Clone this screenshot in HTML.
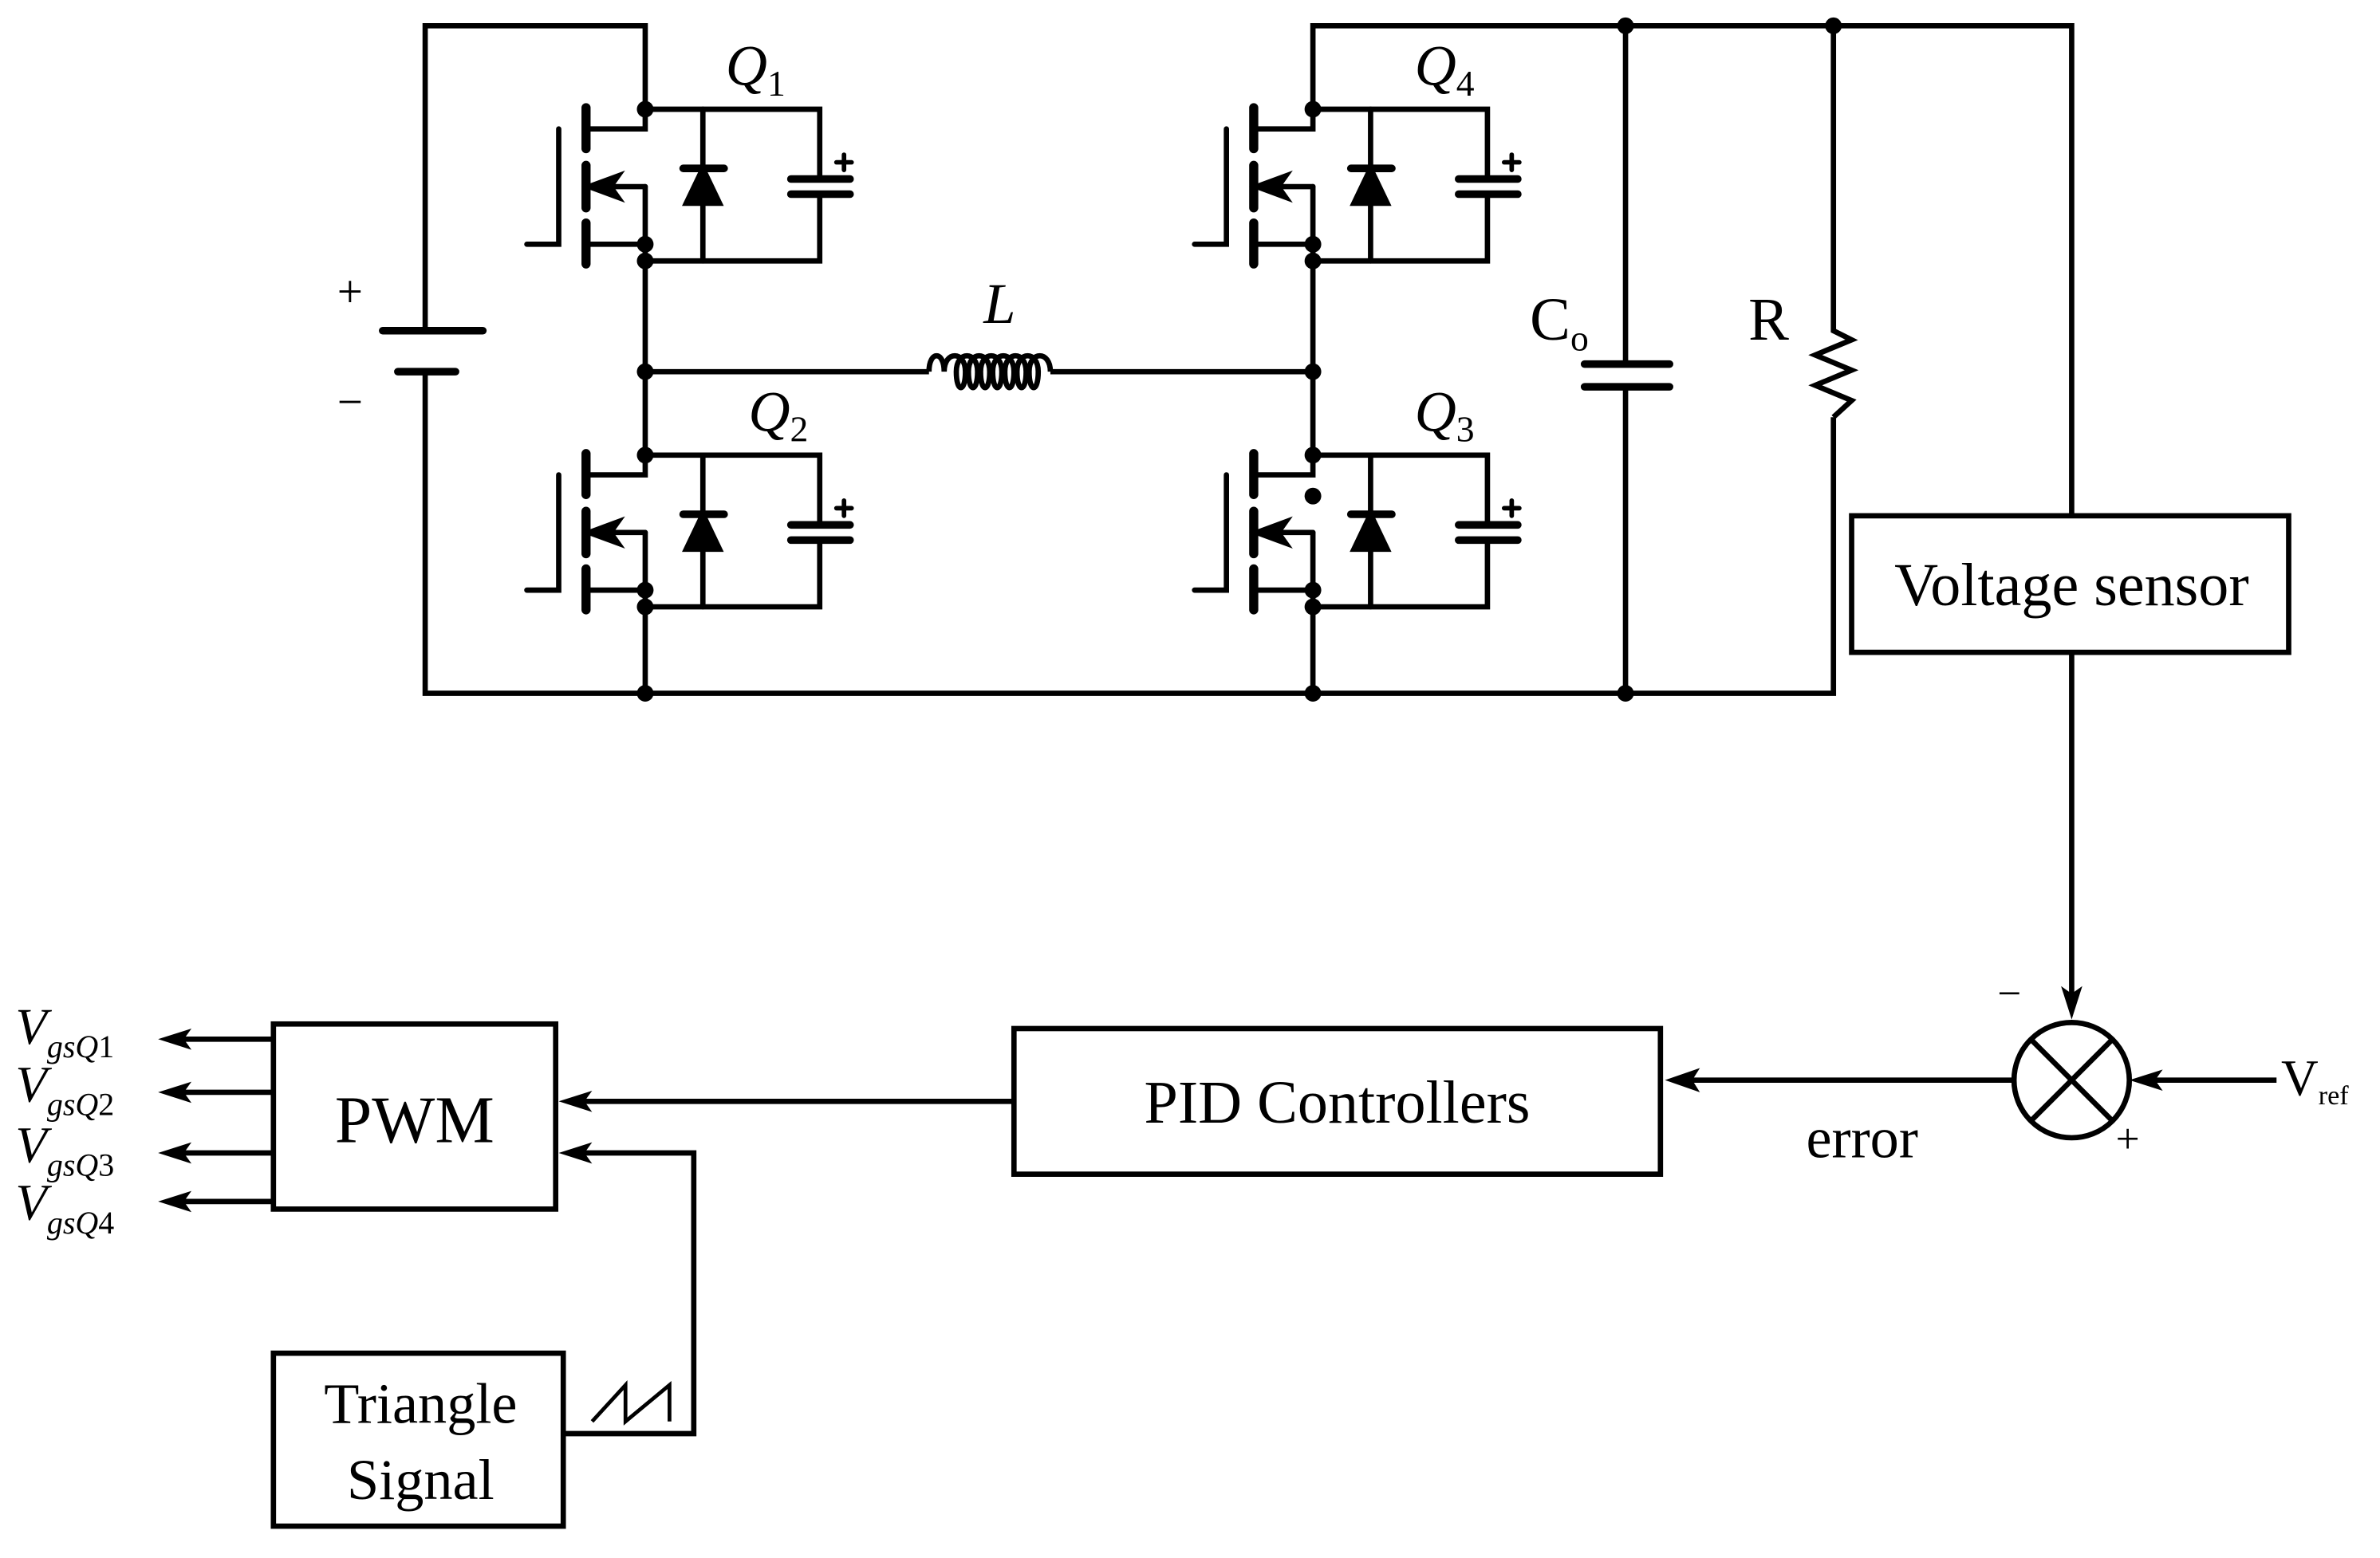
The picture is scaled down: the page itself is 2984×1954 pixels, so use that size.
<!DOCTYPE html>
<html><head><meta charset="utf-8"><style>
html,body{margin:0;padding:0;background:#fff;}
svg{display:block;}
text{font-family:"Liberation Serif",serif;fill:#000;}
</style></head><body>
<svg width="2984" height="1954" viewBox="0 0 1568 1027" xmlns="http://www.w3.org/2000/svg">
<defs>
<g id="mos" stroke="#000" stroke-width="3.5" fill="none" stroke-linecap="round">
  <path d="M-57,13 V89 H-78" />
  <path d="M-39,-1 V26 M-39,37 V65 M-39,75 V102" stroke-width="6"/>
  <path d="M-39,13 H0 V0" />
  <path d="M0,51 H-37" />
  <path d="M-37,51 L-18,44 L-23,51 L-18,58 Z" fill="#000"/>
  <path d="M0,51 V100" />
  <path d="M-39,89 H0" />
  <path d="M0,0 H115 V46 M115,56 V100 H0" />
  <path d="M96,46 H135 M96,56 H135" stroke-width="5"/>
  <path d="M131,30 V40 M126,35 H136" stroke-width="3"/>
  <path d="M38,0 V100" />
  <path d="M25,39 H52" stroke-width="5"/>
  <path d="M27,62 L38,39 L49,62 Z" fill="#000"/>
  <circle cx="0" cy="0" r="5.5" fill="#000" stroke="none"/>
  <circle cx="0" cy="89" r="5.5" fill="#000" stroke="none"/>
  <circle cx="0" cy="100" r="5.5" fill="#000" stroke="none"/>
</g>
</defs>

<use href="#mos" x="425" y="72"/>
<use href="#mos" x="425" y="300"/>
<use href="#mos" x="865" y="72"/>
<use href="#mos" x="865" y="300"/>
<circle cx="865" cy="327" r="5.5" fill="#000"/>

<g stroke="#000" stroke-width="3.5" fill="none">
  <path d="M425,72 V17 H280 V218 M280,245 V457 H1208 V275"/>
  <path d="M865,72 V17 H1365 V340"/>
  <path d="M425,172 V300 M865,172 V300 M425,400 V457 M865,400 V457"/>
  <path d="M425,245 H612 M692,245 H865"/>
  <path d="M612,245 c0,-14 10,-14 10,0 c0,-14 14,-14 14,0 c0,14 -6,14 -6,0 c0,-14 14,-14 14,0 c0,14 -6,14 -6,0 c0,-14 14,-14 14,0 c0,14 -6,14 -6,0 c0,-14 14,-14 14,0 c0,14 -6,14 -6,0 c0,-14 14,-14 14,0 c0,14 -6,14 -6,0 c0,-14 14,-14 14,0 c0,14 -6,14 -6,0 c0,-14 14,-14 14,0 c0,14 -6,14 -6,0 c0,-14 14,-14 14,0"/>
  <path d="M1071,17 V240 M1071,255 V457"/>
  <path d="M1208,17 V218 L1220,224 L1196,234 L1220,244 L1196,254 L1220,264 L1208,275"/>
  <path d="M1365,430 V660"/>
  <circle cx="1365" cy="712" r="38"/>
  <path d="M1338,685 L1392,739 M1392,685 L1338,739"/>
  <path d="M1500,712 H1412"/>
  <path d="M1327,712 H1105"/>
  <path d="M668,726 H378"/>
  <path d="M180,685 H112 M180,720 H112 M180,760 H112 M180,792 H112"/>
  <path d="M371,945 H457 V760 H378"/>
  <path d="M390,937 L412,913 V937 L441,913 V937" stroke-width="2.5"/>
  <rect x="1220" y="340" width="288" height="90"/>
  <rect x="668" y="678" width="426" height="96"/>
  <rect x="180" y="675" width="186" height="122"/>
  <rect x="180" y="892" width="191" height="114"/>
</g>
<g stroke="#000" stroke-width="5" stroke-linecap="round">
  <path d="M252,218 H318 M262,245 H300"/>
  <path d="M1044,240 H1100 M1044,255 H1100"/>
</g>
<g fill="#000">
  <circle cx="425" cy="245" r="5.5"/><circle cx="865" cy="245" r="5.5"/>
  <circle cx="425" cy="457" r="5.5"/><circle cx="865" cy="457" r="5.5"/><circle cx="1071" cy="457" r="5.5"/>
  <circle cx="1071" cy="17" r="5.5"/><circle cx="1208" cy="17" r="5.5"/>
  <path d="M1365,672 L1358,650 L1365,655 L1372,650 Z"/>
  <path d="M1403,712 L1425,705 L1420,712 L1425,719 Z"/>
  <path d="M1097,712 L1120,704 L1115,712 L1120,720 Z"/>
  <path d="M368,726 L390,719 L385,726 L390,733 Z"/>
  <path d="M368,760 L390,753 L385,760 L390,767 Z"/>
  <path d="M104,685 L126,678 L121,685 L126,692 Z"/>
  <path d="M104,720 L126,713 L121,720 L126,727 Z"/>
  <path d="M104,760 L126,753 L121,760 L126,767 Z"/>
  <path d="M104,792 L126,785 L121,792 L126,799 Z"/>
</g>

<g font-size="38">
  <text x="478" y="56" font-style="italic">Q<tspan font-size="24" font-style="normal" dy="7">1</tspan></text>
  <text x="493" y="284" font-style="italic">Q<tspan font-size="24" font-style="normal" dy="7">2</tspan></text>
  <text x="932" y="56" font-style="italic">Q<tspan font-size="24" font-style="normal" dy="7">4</tspan></text>
  <text x="932" y="284" font-style="italic">Q<tspan font-size="24" font-style="normal" dy="7">3</tspan></text>
  <text x="648" y="213" font-style="italic">L</text>
  <text x="1008" y="224" font-size="40">C<tspan font-size="24" dy="7">o</tspan></text>
  <text x="1152" y="224" font-size="40">R</text>
  <text x="222" y="202" font-size="30">+</text>
  <text x="222" y="275" font-size="30">−</text>
  <text x="1365" y="399" text-anchor="middle" font-size="40">Voltage sensor</text>
  <text x="881" y="740" text-anchor="middle" font-size="40">PID Controllers</text>
  <text x="273" y="753" text-anchor="middle" font-size="44">PWM</text>
  <text x="277" y="938" text-anchor="middle" font-size="38">Triangle</text>
  <text x="277" y="988" text-anchor="middle" font-size="38">Signal</text>
  <text x="1190" y="763" font-size="38">error</text>
  <text x="1316" y="664" font-size="28">−</text>
  <text x="1394" y="760" font-size="28">+</text>
  <text x="1503" y="722" font-size="34">V<tspan font-size="18" dy="6">ref</tspan></text>
  <g font-size="34" font-style="italic">
    <text x="10" y="688">V<tspan font-size="21" dy="9">gsQ</tspan><tspan font-size="21" font-style="normal">1</tspan></text>
    <text x="10" y="726">V<tspan font-size="21" dy="9">gsQ</tspan><tspan font-size="21" font-style="normal">2</tspan></text>
    <text x="10" y="766">V<tspan font-size="21" dy="9">gsQ</tspan><tspan font-size="21" font-style="normal">3</tspan></text>
    <text x="10" y="804">V<tspan font-size="21" dy="9">gsQ</tspan><tspan font-size="21" font-style="normal">4</tspan></text>
  </g>
</g>
</svg>
</body></html>
